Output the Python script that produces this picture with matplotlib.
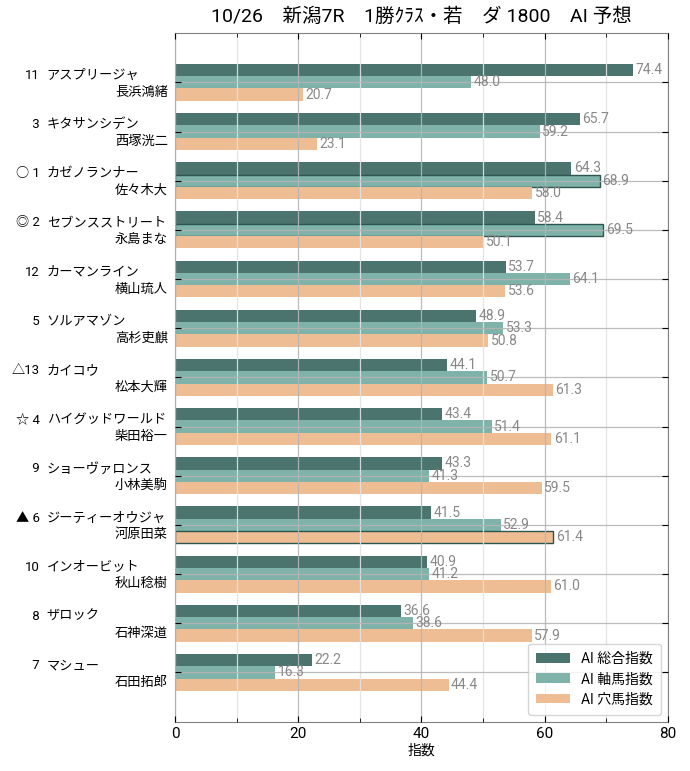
import matplotlib
matplotlib.use("Agg")
import matplotlib.pyplot as plt
import numpy as np
from matplotlib.ticker import MultipleLocator
from matplotlib.transforms import blended_transform_factory

plt.rcParams['font.family'] = ['Roboto', 'Noto Sans CJK JP', 'DejaVu Sans']

title = "10/26    新潟7R    1勝ｸﾗｽ・若    ダ 1800    AI 予想"
marks = ['', '', '○', '◎', '', '', '△', '☆', '', '▲', '', '', '']
numbers = [11, 3, 1, 2, 12, 5, 13, 4, 9, 6, 10, 8, 7]
horses = ['アスプリージャ', 'キタサンシデン', 'カゼノランナー', 'セブンスストリート',
          'カーマンライン', 'ソルアマゾン', 'カイコウ', 'ハイグッドワールド',
          'ショーヴァロンス', 'ジーティーオウジャ', 'インオービット', 'ザロック', 'マシュー']
jockeys = ['長浜鴻緒', '西塚洸二', '佐々木大', '永島まな', '横山琉人', '高杉吏麒',
           '松本大輝', '柴田裕一', '小林美駒', '河原田菜', '秋山稔樹', '石神深道', '石田拓郎']

total = [74.4, 65.7, 64.3, 58.4, 53.7, 48.9, 44.1, 43.4, 43.3, 41.5, 40.9, 36.6, 22.2]
axis_idx = [48.0, 59.2, 68.9, 69.5, 64.1, 53.3, 50.7, 51.4, 41.3, 52.9, 41.2, 38.6, 16.3]
hole_idx = [20.7, 23.1, 58.0, 50.1, 53.6, 50.8, 61.3, 61.1, 59.5, 61.4, 61.0, 57.9, 44.4]

series_names = ['AI 総合指数', 'AI 軸馬指数', 'AI 穴馬指数']
colors = ['#4b746e', '#7fb3aa', '#efbd93']
# (row, series) bars drawn with an outline
outlined = [(2, 1), (3, 1), (9, 2)]


def main():
    fig, ax = plt.subplots(figsize=(6.9, 7.71), dpi=100)
    fig.subplots_adjust(left=0.2536, right=0.968, top=0.957, bottom=0.064)

    y = np.arange(len(horses))
    h = 0.25
    for k, (vals, name, col) in enumerate(zip([total, axis_idx, hole_idx], series_names, colors)):
        bars = ax.barh(y + (k - 1) * h, vals, height=h, color=col, label=name, zorder=1)
        for i, (b, v) in enumerate(zip(bars, vals)):
            if (i, k) in outlined:
                b.set_edgecolor('#2d5550')
                b.set_linewidth(1.0)
            ax.text(v + 0.4, y[i] + (k - 1) * h, f"{v:.1f}", va='center', ha='left',
                    fontsize=10, color='#888888', zorder=3)

    ax.set_xlim(0, 80)
    ax.set_ylim(len(horses), -1)
    ax.xaxis.set_major_locator(MultipleLocator(20))
    ax.xaxis.set_minor_locator(MultipleLocator(10))
    ax.set_yticks(y)
    ax.set_yticklabels([])

    # two-line labels: mark/number + horse name on top, jockey below
    trans = blended_transform_factory(ax.transAxes, ax.transData)
    for i in range(len(horses)):
        ax.text(-0.274, y[i] - 0.14, f"{marks[i]}{numbers[i]:>2}", ha='right', va='center',
                fontsize=9.5, transform=trans)
        ax.text(-0.26, y[i] - 0.14, horses[i], ha='left', va='center',
                fontsize=9.5, transform=trans)
        ax.text(-0.0142, y[i] + 0.2, jockeys[i], ha='right', va='center',
                fontsize=9.5, transform=trans)

    ax.set_axisbelow(False)
    ax.grid(which='major', axis='both', color='#b5b5b5', linewidth=0.9, alpha=0.9, zorder=2)
    ax.grid(which='minor', axis='x', color='#e2e2e2', linewidth=0.9, alpha=0.9, zorder=2)
    ax.tick_params(which='both', direction='in', top=True, right=True, labelsize=11)
    ax.tick_params(which='major', length=4)
    ax.tick_params(which='minor', length=3)
    for s in ax.spines.values():
        s.set_color('#808080')

    ax.set_xlabel('指数', fontsize=10, labelpad=2)
    ax.set_title(title, fontsize=14, pad=8)
    ax.legend(loc='lower right', fontsize=10, handlelength=2.4, borderpad=0.6,
              labelspacing=0.45)

    fig.savefig('out.png', dpi=100)


if __name__ == '__main__':
    main()
